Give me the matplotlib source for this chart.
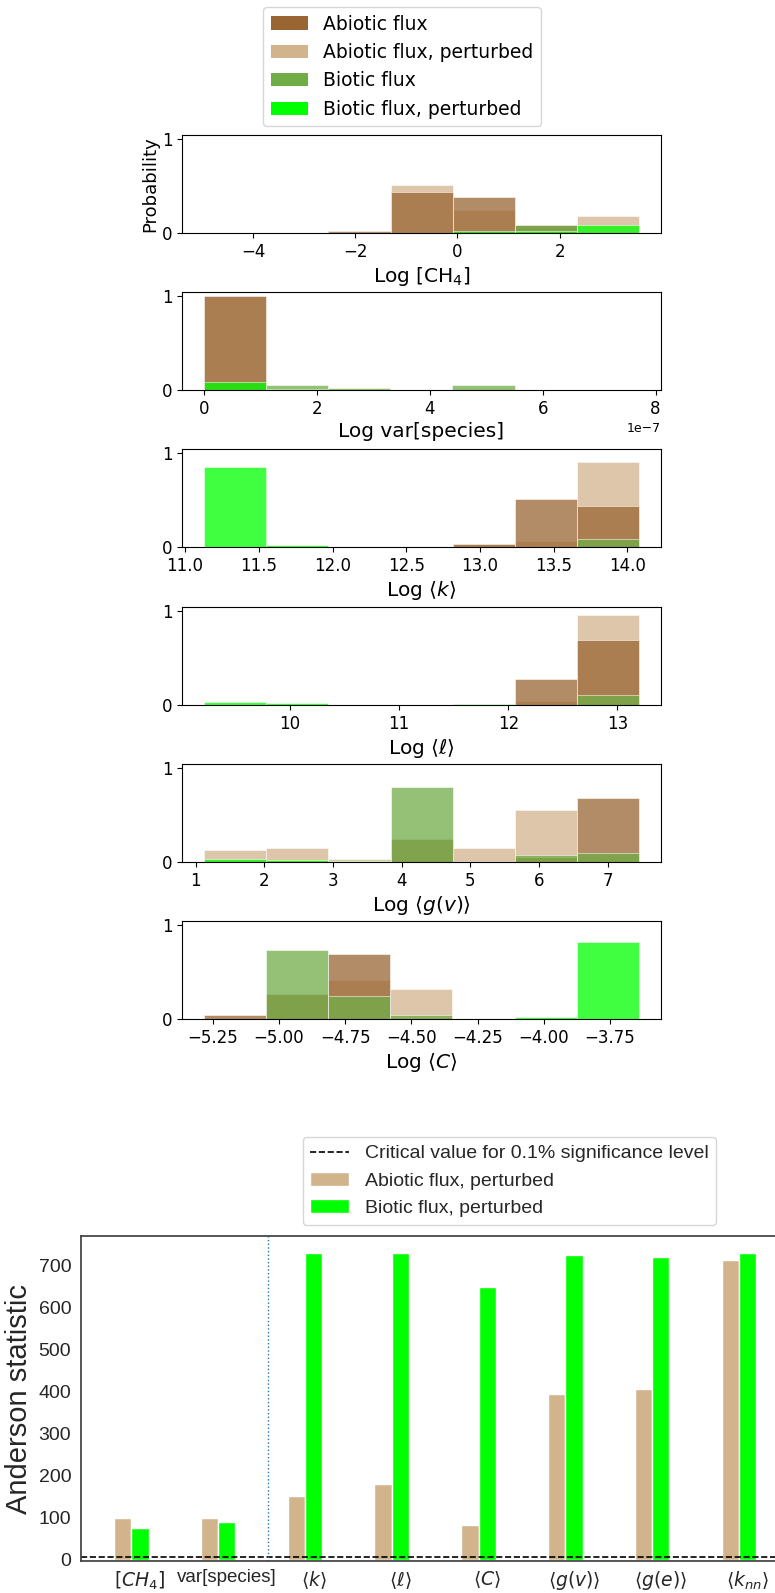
import numpy as np
import matplotlib.pyplot as plt
from matplotlib.patches import Patch
from matplotlib.lines import Line2D
from matplotlib.ticker import MultipleLocator

# ---- colours -------------------------------------------------------------
C_ABIO = "#996633"
C_ABIO_P = "#d2b48c"
C_BIO = "#70ad47"
C_BIO_P = "#00ff00"

series_labels = ["Abiotic flux", "Abiotic flux, perturbed",
                 "Biotic flux", "Biotic flux, perturbed"]

# ---- histogram data (bin edges and probability per bin) ------------------
ch4_edges = [-4.97, -3.75, -2.53, -1.31, -0.09, 1.12, 2.34, 3.56]
ch4_abiotic = [0.0, 0.0, 0.02, 0.435, 0.385, 0.08, 0.0]
ch4_abiotic_p = [0.0, 0.0, 0.0, 0.51, 0.24, 0.07, 0.18]
ch4_biotic = [0.0, 0.0, 0.0, 0.0, 0.0, 0.09, 0.0]
ch4_biotic_p = [0.0, 0.0, 0.0, 0.005, 0.02, 0.02, 0.085]

var_edges = [0.0, 1.10e-7, 2.20e-7, 3.30e-7, 4.40e-7, 5.51e-7, 6.61e-7, 7.71e-7]
var_abiotic = [1.0, 0.0, 0.0, 0.0, 0.0, 0.0, 0.0]
var_abiotic_p = [1.0, 0.0, 0.0, 0.0, 0.0, 0.0, 0.0]
var_biotic = [0.0, 0.055, 0.02, 0.005, 0.055, 0.005, 0.0]
var_biotic_p = [0.09, 0.015, 0.005, 0.005, 0.005, 0.005, 0.005]

k_edges = [11.127, 11.549, 11.971, 12.392, 12.814, 13.236, 13.658, 14.08]
k_abiotic = [0.0, 0.0, 0.0, 0.0, 0.03, 0.51, 0.43]
k_abiotic_p = [0.0, 0.0, 0.0, 0.0, 0.03, 0.065, 0.905]
k_biotic = [0.0, 0.0, 0.0, 0.0, 0.0, 0.0, 0.09]
k_biotic_p = [0.85, 0.02, 0.005, 0.005, 0.005, 0.0, 0.0]

l_edges = [9.21, 9.78, 10.35, 10.92, 11.49, 12.06, 12.63, 13.20]
l_abiotic = [0.0, 0.0, 0.0, 0.0, 0.0, 0.28, 0.69]
l_abiotic_p = [0.0, 0.0, 0.0, 0.0, 0.0, 0.04, 0.957]
l_biotic = [0.0, 0.0, 0.0, 0.0, 0.0, 0.0, 0.105]
l_biotic_p = [0.028, 0.02, 0.005, 0.005, 0.015, 0.0, 0.0]

gv_edges = [1.12, 2.03, 2.93, 3.84, 4.75, 5.65, 6.56, 7.46]
gv_abiotic = [0.0, 0.0, 0.0, 0.24, 0.01, 0.05, 0.68]
gv_abiotic_p = [0.124, 0.145, 0.03, 0.0, 0.153, 0.55, 0.0]
gv_biotic = [0.0, 0.0, 0.01, 0.80, 0.0, 0.078, 0.10]
gv_biotic_p = [0.03, 0.02, 0.015, 0.0, 0.0, 0.0, 0.0]

c_edges = [-5.284, -5.049, -4.814, -4.580, -4.345, -4.110, -3.875, -3.640]
c_abiotic = [0.045, 0.265, 0.69, 0.0, 0.0, 0.0, 0.0]
c_abiotic_p = [0.0, 0.27, 0.41, 0.32, 0.0, 0.0, 0.0]
c_biotic = [0.0, 0.73, 0.24, 0.04, 0.0, 0.0, 0.0]
c_biotic_p = [0.005, 0.0, 0.0, 0.0, 0.005, 0.018, 0.82]

panel_xlabels = ["Log [CH$_4$]", "Log var[species]", r"Log $\langle k\rangle$",
                 r"Log $\langle \ell\rangle$", r"Log $\langle g(v)\rangle$",
                 r"Log $\langle C\rangle$"]
panel_tick_steps = [2, 2e-7, 0.5, 1, 1, 0.25]

# ---- Anderson statistics -------------------------------------------------
ad_labels = ["$[CH_4]$", "var[species]", r"$\langle k\rangle$", r"$\langle \ell\rangle$",
             r"$\langle C\rangle$", r"$\langle g(v)\rangle$", r"$\langle g(e)\rangle$",
             r"$\langle k_{nn}\rangle$"]
ad_abiotic_p = [99, 99, 151, 180, 82, 393, 406, 713]
ad_biotic_p = [75, 89, 730, 730, 648, 724, 721, 730]
critical_value = 6.546
split_position = 1.68

# ---- figure --------------------------------------------------------------
W, H = 775, 1593
fig = plt.figure(figsize=(W / 100, H / 100), dpi=100)


def axes_px(x0, y0, x1, y1):
    return fig.add_axes([x0 / W, 1 - y1 / H, (x1 - x0) / W, (y1 - y0) / H])


panels = [
    (ch4_edges, ch4_abiotic, ch4_abiotic_p, ch4_biotic, ch4_biotic_p),
    (var_edges, var_abiotic, var_abiotic_p, var_biotic, var_biotic_p),
    (k_edges, k_abiotic, k_abiotic_p, k_biotic, k_biotic_p),
    (l_edges, l_abiotic, l_abiotic_p, l_biotic, l_biotic_p),
    (gv_edges, gv_abiotic, gv_abiotic_p, gv_biotic, gv_biotic_p),
    (c_edges, c_abiotic, c_abiotic_p, c_biotic, c_biotic_p),
]
panel_tops = [135, 292, 449, 607, 764, 921]

for i, (edges, ab, abp, bi, bip) in enumerate(panels):
    top = panel_tops[i]
    ax = axes_px(182, top, 661, top + 98)
    edges = np.asarray(edges)
    # perturbed abiotic first, then abiotic, biotic, perturbed biotic on top
    for h, c in [(abp, C_ABIO_P), (ab, C_ABIO), (bi, C_BIO), (bip, C_BIO_P)]:
        ax.hist(edges[:-1], bins=edges, weights=h, color=c, alpha=0.75,
                edgecolor="white", linewidth=0.5)
    ax.set_ylim(0, 1.04)
    ax.set_yticks([0, 1])
    ax.xaxis.set_major_locator(MultipleLocator(panel_tick_steps[i]))
    ax.tick_params(labelsize=12)
    ax.set_xlabel(panel_xlabels[i], fontsize=14.5, labelpad=3)
    ax.xaxis.get_offset_text().set_fontsize(9)
    if i == 0:
        ax.set_ylabel("Probability", fontsize=13, labelpad=2)

legend_handles = [Patch(facecolor=c, edgecolor="none")
                  for c in (C_ABIO, C_ABIO_P, C_BIO, C_BIO_P)]
fig.legend(legend_handles, series_labels, loc="upper left",
           bbox_to_anchor=(263 / W, 1 - 7 / H), bbox_transform=fig.transFigure,
           borderaxespad=0, fontsize=13.5)

# ---- Anderson statistic bar chart ---------------------------------------
SANS = ["Liberation Sans", "DejaVu Sans"]
DARK = "0.15"
ax = axes_px(81, 1236, 791, 1561)
x = np.arange(len(ad_labels))
bw = 0.2
ax.bar(x, ad_abiotic_p, width=bw, color="tan", edgecolor="white", linewidth=1)
ax.bar(x + bw, ad_biotic_p, width=bw, color="lime", edgecolor="white", linewidth=1)
ax.axhline(critical_value, color="black", linestyle="--", linewidth=1.2)
ax.axvline(split_position, color="#1f77b4", linestyle=":", linewidth=1)
ax.set_xticks(x + bw)
ax.set_xticklabels(ad_labels)
ax.set_yticks(np.arange(0, 701, 100))
ax.set_xlim(-0.48, 7.7)
ax.set_ylim(-3.5, 770)
ax.tick_params(axis="both", length=0, colors=DARK, labelfontfamily=SANS)
ax.tick_params(axis="x", labelsize=13.5, pad=6)
ax.tick_params(axis="y", labelsize=14, pad=7)
for s in ax.spines.values():
    s.set_color("0.25")
    s.set_linewidth(1.25)
ax.set_ylabel("Anderson statistic", fontsize=21, color=DARK, family=SANS)

bar_handles = [
    Line2D([0], [0], color="black", linestyle="--", linewidth=1.2),
    Patch(facecolor="tan", edgecolor="white"),
    Patch(facecolor="lime", edgecolor="white"),
]
bar_labels = ["Critical value for 0.1% significance level",
              "Abiotic flux, perturbed", "Biotic flux, perturbed"]
leg = fig.legend(bar_handles, bar_labels, loc="upper left",
                 bbox_to_anchor=(302.5 / W, 1 - 1137 / H),
                 bbox_transform=fig.transFigure, borderaxespad=0,
                 prop={"family": SANS, "size": 14})
for t in leg.get_texts():
    t.set_color(DARK)

fig.savefig("out.png", dpi=100)
